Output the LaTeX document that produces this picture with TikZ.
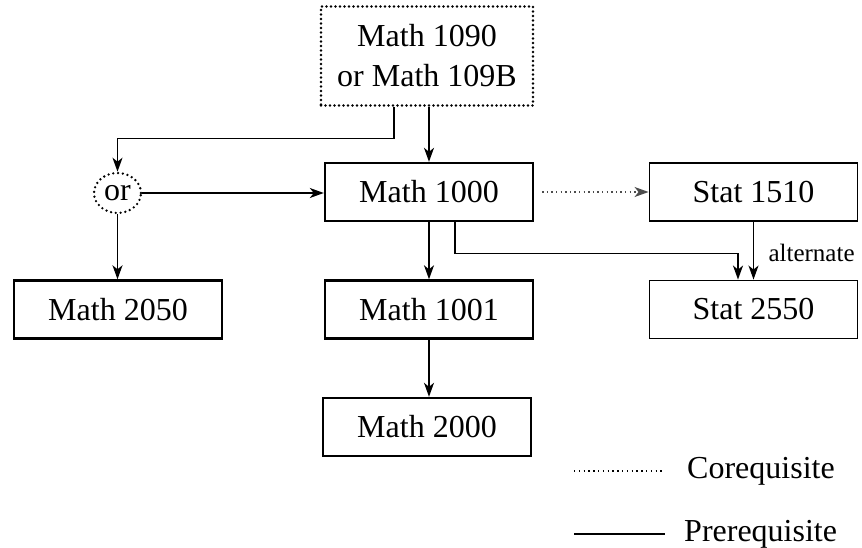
\documentclass[tikz,border=0pt]{standalone}
\usepackage{fontspec}
\setmainfont{Liberation Serif}
\usetikzlibrary{arrows.meta,shapes.geometric}
\tikzset{
  course/.style={draw, line width=2.4pt, minimum width=208pt, minimum height=58pt, inner sep=0pt, font=\fontsize{32}{38}\selectfont},
  stat/.style={course, line width=1.9pt},
  orbox/.style={draw, line width=2.6pt, dash pattern=on 0pt off 4.5pt, line cap=round, minimum width=212pt, minimum height=99pt, align=center, inner sep=0pt, font=\fontsize{32}{40}\selectfont},
  ornode/.style={ellipse, draw, line width=2.6pt, dash pattern=on 0pt off 4.8pt, line cap=round, minimum width=47pt, minimum height=40pt, inner sep=0pt, font=\fontsize{32}{38}\selectfont},
  arr/.style={line width=1.4pt, -{Stealth[length=14pt,width=10pt,inset=4pt]}},
  coarr/.style={line width=1.2pt, black!70, dash pattern=on 1.4pt off 3.2pt, -{Stealth[length=14pt,width=10pt,inset=4pt]}},
  legtext/.style={anchor=west, inner sep=0pt, font=\fontsize{32}{38}\selectfont},
  small/.style={font=\fontsize{25}{28}\selectfont}
}
\begin{document}
\begin{tikzpicture}[x=1pt,y=-1pt]
\useasboundingbox (0,0) rectangle (862,548);
\node[orbox] (top) at (427,56) {Math 1090\\or Math 109B};
\node[course] (m1000) at (429,192) {Math 1000};
\node[stat] (s1510) at (753.5,192) {Stat 1510};
\node[ornode] (orn) at (117.5,193) {or};
\node[course] (m2050) at (118,309.5) {Math 2050};
\node[course] (m1001) at (429,309.5) {Math 1001};
\node[stat] (s2550) at (753.5,309.5) {Stat 2550};
\node[course] (m2000) at (427,427) {Math 2000};

\draw[arr] (top.south -| m1000) -- (m1000.north);
\draw[arr] ([xshift=-33pt]top.south) -- ++(0,31.5) -| (orn.north);
\draw[arr] (orn.east) -- (orn.east -| m1000.west);
\draw[arr] (orn.south) -- (orn.south |- m2050.north);
\draw[arr] (m1000.south) -- (m1001.north);
\draw[arr] (m1001.south) -- (m1001.south |- m2000.north);
\draw[arr] ([xshift=26pt]m1000.south) -- ++(0,31) -| ([xshift=-15.5pt]s2550.north);
\draw[arr] (s1510.south) -- node[small, anchor=west, xshift=11pt, yshift=-2pt] {alternate} (s2550.north);
\draw[coarr] ([xshift=8pt]m1000.east) -- (s1510.west);

\node[legtext] (lco) at (687,471) {Corequisite};
\node[legtext] (lpr) at (684,534) {Prerequisite};
\coordinate (c1) at (574,471);
\coordinate (c2) at (574,534);
\draw[line width=1.2pt, dash pattern=on 1.4pt off 3.4pt] (c1) -- ([xshift=-22pt]lco.west);
\draw[line width=1.6pt] (c2) -- ([xshift=-19pt]lpr.west);
\end{tikzpicture}
\end{document}
